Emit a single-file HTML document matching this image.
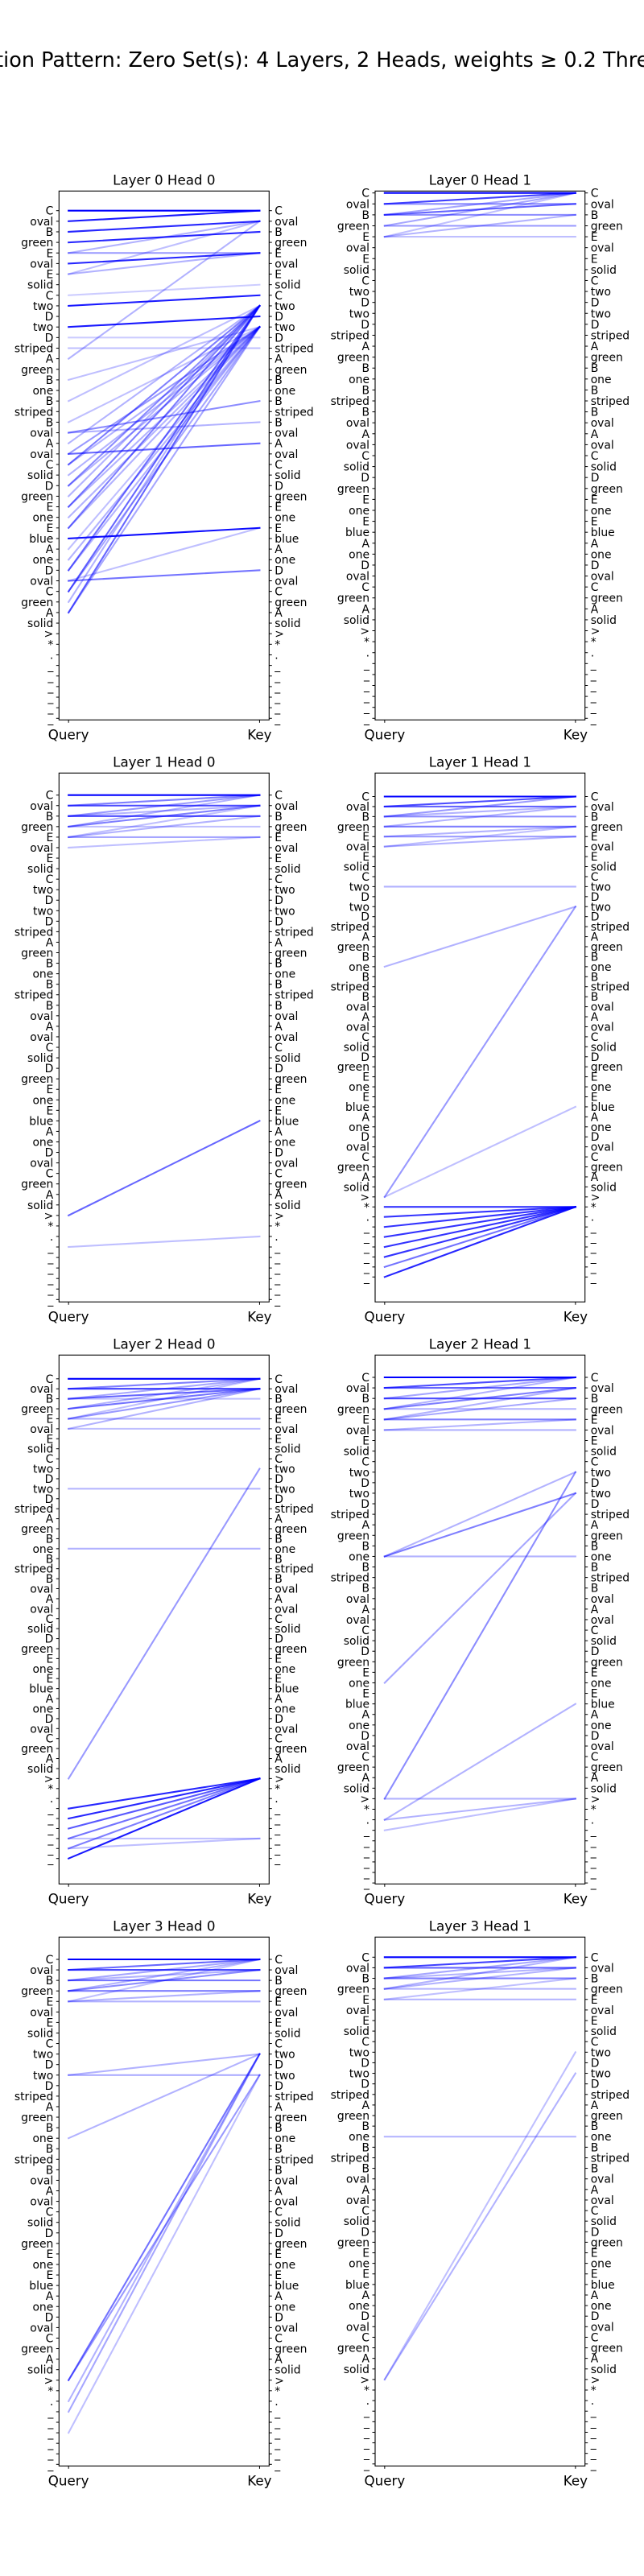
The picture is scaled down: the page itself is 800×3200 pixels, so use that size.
<!DOCTYPE html>
<html><head><meta charset="utf-8">
<style>
html,body{margin:0;padding:0;background:#fff;}
svg{display:block;font-family:"DejaVu Sans","Liberation Sans",sans-serif;}
</style></head>
<body>
<svg id="fig" width="800" height="3200" viewBox="0 0 800 3200" xmlns="http://www.w3.org/2000/svg">
<rect width="800" height="3200" fill="#fff"/>
<text x="400" y="83" font-size="25.5" text-anchor="middle" fill="#000">Attention Pattern: Zero Set(s): 4 Layers, 2 Heads, weights ≥ 0.2 Threshold</text>
</svg>
<script>
const tokens = ["C","oval","B","green","E","oval","E","solid","C","two","D","two","D","striped","A","green","B","one","B","striped","B","oval","A","oval","C","solid","D","green","E","one","E","blue","A","one","D","oval","C","green","A","solid",">","*",".","_","_","_","_","_","_"];
const panelTitles = ["Layer 0 Head 0","Layer 0 Head 1","Layer 1 Head 0","Layer 1 Head 1","Layer 2 Head 0","Layer 2 Head 1","Layer 3 Head 0","Layer 3 Head 1"];
const xLabels = ["Query","Key"];
// [query index, key index, weight]
const linksL0H0 = [[0,0,1],[1,0,.9],[2,1,.85],[3,2,.85],[4,4,.4],[4,1,.3],[5,4,.85],[6,4,.3],[6,1,.25],[8,7,.2],[9,8,.9],[11,10,.9],[12,12,.2],[13,13,.25],[14,1,.3],[16,11,.25],[18,9,.25],[20,11,.25],[21,18,.45],[21,20,.3],[22,9,.3],[23,22,.6],[23,11,.4],[24,9,.5],[24,11,.3],[26,9,.45],[26,11,.3],[28,9,.5],[28,11,.3],[30,9,.5],[30,11,.3],[31,30,.95],[32,11,.25],[34,9,.55],[34,11,.3],[35,34,.55],[35,30,.25],[36,9,.6],[36,11,.35],[38,9,.6],[38,11,.35],[25,11,.3],[27,9,.3],[29,11,.3],[33,11,.3],[37,9,.3]];
const linksL0H1 = [[0,0,1],[1,0,.75],[1,1,.45],[2,1,.6],[2,2,.45],[2,0,.35],[3,3,.4],[3,0,.35],[4,4,.25],[4,2,.3],[4,0,.25]];
const linksL1H0 = [[0,0,1],[1,1,.7],[1,0,.5],[2,2,.7],[2,0,.4],[2,1,.3],[3,3,.25],[3,1,.5],[3,0,.3],[4,4,.35],[4,2,.3],[4,1,.25],[5,4,.25],[40,31,.6],[43,42,.25]];
const linksL1H1 = [[0,0,1],[1,1,.6],[1,0,.7],[2,2,.45],[2,0,.4],[2,1,.3],[3,3,.5],[3,1,.3],[4,4,.4],[4,3,.3],[5,4,.3],[5,3,.25],[9,9,.3],[17,11,.3],[40,11,.4],[40,31,.25],[41,41,.85],[42,41,.8],[43,41,.8],[44,41,.8],[45,41,.8],[46,41,.8],[47,41,.55],[48,41,.85]];
const linksL2H0 = [[0,0,1],[1,1,.75],[1,0,.5],[2,2,.25],[2,1,.6],[2,0,.35],[3,1,.55],[3,0,.3],[4,4,.3],[4,1,.4],[4,0,.25],[5,5,.25],[5,1,.3],[11,11,.3],[17,17,.3],[40,9,.4],[43,40,.85],[44,40,.85],[45,40,.65],[46,40,.55],[47,40,.5],[48,40,.9],[46,46,.25],[47,46,.25]];
const linksL2H1 = [[0,0,1],[1,1,.6],[1,0,.7],[2,2,.7],[2,0,.35],[3,3,.3],[3,1,.5],[3,0,.3],[4,4,.5],[4,2,.35],[4,1,.3],[5,5,.3],[5,4,.3],[17,9,.3],[17,11,.5],[17,17,.3],[29,11,.35],[40,9,.45],[40,40,.3],[42,31,.3],[42,40,.3],[43,40,.25]];
const linksL3H0 = [[0,0,1],[1,1,.7],[1,0,.6],[2,2,.55],[2,0,.35],[2,1,.3],[3,3,.5],[3,1,.45],[3,0,.3],[4,4,.3],[4,3,.3],[4,0,.25],[11,11,.35],[11,9,.3],[17,9,.3],[40,9,.55],[40,11,.4],[42,9,.3],[43,9,.35],[45,11,.25]];
const linksL3H1 = [[0,0,1],[1,1,.6],[1,0,.75],[2,2,.5],[2,0,.35],[2,1,.3],[3,3,.3],[3,0,.3],[3,1,.3],[4,4,.3],[4,2,.25],[17,17,.3],[40,9,.25],[40,11,.3]];
const panelLinks = [linksL0H0,linksL0H1,linksL1H0,linksL1H1,linksL2H0,linksL2H1,linksL3H0,linksL3H1];

const NS = "http://www.w3.org/2000/svg";
const svg = document.getElementById("fig");
const colGeom = [{x0:73.3,x1:334.3},{x0:466,x1:726.7}];
const tickOff = [[24.4,655],[2.4,655],[27.4,654],[29.2,626],[29.5,625.4],[27.7,655.8],[27.7,655],[25,654.5]];
function mk(tag, attrs, parent){
  const e = document.createElementNS(NS, tag);
  for (const k in attrs) e.setAttribute(k, attrs[k]);
  parent.appendChild(e);
  return e;
}
panelLinks.forEach((links, p) => {
  const r = Math.floor(p/2), c = p%2;
  const top = 237.3 + r*723, bot = top + 657;
  const {x0, x1} = colGeom[c];
  const m = (x1-x0)/1.1*0.05;
  const xScale = v => x0 + m + v*(x1-x0-2*m);
  const [o0, o48] = tickOff[p];
  const yScale = i => top + o0 + i*(o48-o0)/(tokens.length-1);
  const g = mk("g", {}, svg);
  
  
  const t = mk("text", {x:(x0+x1)/2, y:top-8, "font-size":16.7, "text-anchor":"middle", fill:"#000"}, g);
  t.textContent = panelTitles[p];
  
  
  const lg = mk("g", {}, g);
  
  
  links.forEach(([q,k,w]) => {
    const ln = mk("line", {x1:xScale(0), y1:yScale(q), x2:xScale(1), y2:yScale(k), stroke:"#0000ff", "stroke-opacity":w, "stroke-width":2.08, "stroke-linecap":"square"}, lg);
    
    
  });
  const fr = mk("rect", {x:x0, y:top, width:x1-x0, height:bot-top, fill:"none", stroke:"#000", "stroke-width":1.1}, g);
  
  
  tokens.forEach((tok, i) => {
    const y = yScale(i);
    if (y < top-0.5 || y > bot+0.5) return;
    mk("line", {x1:x0-3.5, y1:y, x2:x0, y2:y, stroke:"#000", "stroke-width":1}, g);
    mk("line", {x1:x1, y1:y, x2:x1+3.5, y2:y, stroke:"#000", "stroke-width":1}, g);
    const lt = mk("text", {x:x0-7, y:y+5, "font-size":13.9, "text-anchor":"end", fill:"#000"}, g);
    lt.textContent = tok;
    
    
    const rt = mk("text", {x:x1+7, y:y+5, "font-size":13.9, "text-anchor":"start", fill:"#000"}, g);
    rt.textContent = tok;
    
    
  });
  xLabels.forEach((lab, j) => {
    const x = xScale(j);
    mk("line", {x1:x, y1:bot, x2:x, y2:bot+3.5, stroke:"#000", "stroke-width":1}, g);
    const xt = mk("text", {x:x, y:bot+24, "font-size":16.7, "text-anchor":"middle", fill:"#000"}, g);
    xt.textContent = lab;
    
    
  });
});
</script>
</body></html>
